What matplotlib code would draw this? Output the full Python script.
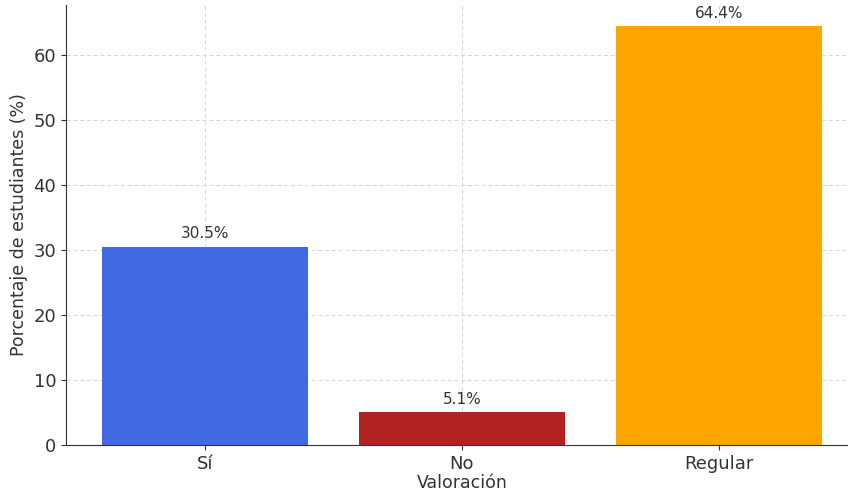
import matplotlib
matplotlib.use("Agg")
import matplotlib.pyplot as plt

categorias = ['Sí', 'No', 'Regular']
porcentajes = [30.5, 5.1, 64.4]
colores = ['royalblue', 'firebrick', 'orange']

fig = plt.figure(figsize=(8.48, 4.93), dpi=100)
ax = fig.add_axes([0.0778, 0.0974, 0.934, 0.8925])

barras = ax.bar(categorias, porcentajes, color=colores, zorder=2)
for b, v in zip(barras, porcentajes):
    ax.text(b.get_x() + b.get_width() / 2, v + 0.8, f'{v}%',
            ha='center', va='bottom', fontsize=11, color='#333333')

ax.set_ylim(0, 67.62)
ax.set_xlabel('Valoración', fontsize=12.5, color='#333333', labelpad=1)
ax.set_ylabel('Porcentaje de estudiantes (%)', fontsize=12.5, color='#333333')
ax.tick_params(labelsize=13, colors='#333333')
ax.grid(True, linestyle=(0, (4, 3)), color='#d5d5d5', linewidth=0.7, zorder=0)
ax.set_axisbelow(True)
ax.spines['top'].set_visible(False)
ax.spines['right'].set_visible(False)
for s in ['left', 'bottom']:
    ax.spines[s].set_color('#333333')

fig.savefig('out.png', dpi=100)
